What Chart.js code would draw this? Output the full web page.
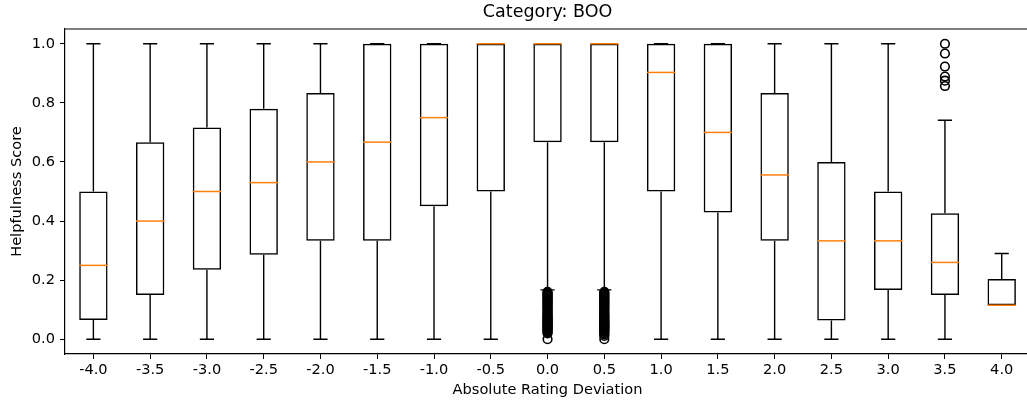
<!DOCTYPE html>
<html>
<head>
<meta charset="utf-8">
<script src="https://cdn.jsdelivr.net/npm/chart.js@4/dist/chart.umd.min.js"></script>
<style>
  html, body { margin: 0; padding: 0; background: #fff; overflow: hidden; }
  #wrap { width: 1036px; height: 406px; position: relative; }
</style>
</head>
<body>
<div id="wrap"><canvas id="boxChart"></canvas></div>
<script>
// Deviation buckets on the x axis
const deviations = ['-4.0', '-3.5', '-3.0', '-2.5', '-2.0', '-1.5', '-1.0', '-0.5', '0.0',
                    '0.5', '1.0', '1.5', '2.0', '2.5', '3.0', '3.5', '4.0'];

// Box statistics per bucket (helpfulness score)
const whiskerLow  = [0, 0, 0, 0, 0, 0, 0, 0, 0.167, 0.167, 0, 0, 0, 0, 0, 0, 0.115];
const q1          = [0.065, 0.15, 0.235, 0.286, 0.333, 0.333, 0.45, 0.5, 0.667, 0.667, 0.5, 0.429, 0.333, 0.063, 0.167, 0.15, 0.115];
const medians     = [0.25, 0.40, 0.50, 0.53, 0.60, 0.667, 0.75, 1.0, 1.0, 1.0, 0.903, 0.70, 0.556, 0.333, 0.333, 0.26, 0.115];
const q3          = [0.50, 0.667, 0.717, 0.78, 0.833, 1.0, 1.0, 1.0, 1.0, 1.0, 1.0, 1.0, 0.833, 0.60, 0.50, 0.426, 0.204];
const whiskerHigh = [1, 1, 1, 1, 1, 1, 1, 1, 1, 1, 1, 1, 1, 1, 1, 0.741, 0.29];

// Fliers (dense below the lower whisker for 0.0 and 0.5)
const fliersZero = [0, 0.02, 0.024, 0.028, 0.031, 0.034, 0.037, 0.04, 0.043, 0.045, 0.048, 0.05,
                    0.053, 0.056, 0.059, 0.0625, 0.065, 0.067, 0.071, 0.074, 0.077, 0.08, 0.083,
                    0.087, 0.091, 0.095, 0.1, 0.103, 0.107, 0.111, 0.115, 0.118, 0.122, 0.125,
                    0.129, 0.133, 0.136, 0.14, 0.143, 0.147, 0.15, 0.154, 0.157, 0.16];
const fliersHalf = [0, 0.011, 0.016, 0.02, 0.024, 0.028, 0.031, 0.034, 0.037, 0.04, 0.043, 0.045,
                    0.048, 0.05, 0.053, 0.056, 0.059, 0.0625, 0.065, 0.067, 0.071, 0.074, 0.077,
                    0.08, 0.083, 0.087, 0.091, 0.095, 0.1, 0.103, 0.107, 0.111, 0.115, 0.118,
                    0.122, 0.125, 0.129, 0.133, 0.136, 0.14, 0.143, 0.147, 0.15, 0.154, 0.157, 0.16];
const fliersThreeHalf = [1.0, 0.967, 0.923, 0.889, 0.875, 0.857];

const yTicks = [0, 0.2, 0.4, 0.6, 0.8, 1.0];

const FONT = 'DejaVu Sans';

const fliers = [
    ...fliersZero.map(v => ({ x: '0.0', y: v })),
    ...fliersHalf.map(v => ({ x: '0.5', y: v })),
    ...fliersThreeHalf.map(v => ({ x: '3.5', y: v }))
];

// whiskers, caps, medians and the axes frame
const boxExtras = {
    id: 'boxExtras',
    beforeDatasetsDraw(chart) {
        const { ctx, scales: { x, y } } = chart;
        const step = x.getPixelForValue(1) - x.getPixelForValue(0);
        ctx.save();
        ctx.strokeStyle = '#000';
        ctx.lineWidth = 1.4;
        deviations.forEach((d, i) => {
            const cx = x.getPixelForValue(i);
            const half = step * 0.125;
            ctx.beginPath();
            ctx.moveTo(cx, y.getPixelForValue(q1[i]));
            ctx.lineTo(cx, y.getPixelForValue(whiskerLow[i]));
            ctx.moveTo(cx, y.getPixelForValue(q3[i]));
            ctx.lineTo(cx, y.getPixelForValue(whiskerHigh[i]));
            ctx.moveTo(cx - half, y.getPixelForValue(whiskerLow[i]));
            ctx.lineTo(cx + half, y.getPixelForValue(whiskerLow[i]));
            ctx.moveTo(cx - half, y.getPixelForValue(whiskerHigh[i]));
            ctx.lineTo(cx + half, y.getPixelForValue(whiskerHigh[i]));
            ctx.stroke();
        });
        ctx.restore();
    },
    afterDatasetsDraw(chart) {
        const { ctx, chartArea, scales: { x, y } } = chart;
        const step = x.getPixelForValue(1) - x.getPixelForValue(0);
        ctx.save();
        ctx.strokeStyle = '#ff7f0e';
        ctx.lineWidth = 1.5;
        medians.forEach((m, i) => {
            const cx = x.getPixelForValue(i);
            const py = y.getPixelForValue(m);
            ctx.beginPath();
            ctx.moveTo(cx - step * 0.25, py);
            ctx.lineTo(cx + step * 0.25, py);
            ctx.stroke();
        });
        ctx.strokeStyle = '#000';
        ctx.lineWidth = 1.2;
        ctx.beginPath();
        ctx.moveTo(chartArea.left, chartArea.top);
        ctx.lineTo(chartArea.right, chartArea.top);
        ctx.lineTo(chartArea.right, chartArea.bottom);
        ctx.stroke();
        ctx.restore();
    }
};

new Chart(document.getElementById('boxChart').getContext('2d'), {
    type: 'bar',
    data: {
        labels: deviations,
        datasets: [{
            type: 'bar',
            label: 'IQR',
            data: deviations.map((d, i) => [q1[i], q3[i]]),
            backgroundColor: 'rgba(255,255,255,0)',
            borderColor: '#000',
            borderWidth: 1.5,
            borderSkipped: false,
            barPercentage: 0.5,
            categoryPercentage: 1.0,
            order: 2
        }, {
            type: 'line',
            label: 'Fliers',
            data: fliers,
            showLine: false,
            pointStyle: 'circle',
            pointRadius: 4.3,
            pointBorderWidth: 1.6,
            pointBorderColor: '#000',
            pointBackgroundColor: 'rgba(255,255,255,0)',
            order: 1
        }]
    },
    options: {
        responsive: true,
        maintainAspectRatio: false,
        animation: false,
        layout: { padding: { left: 0, right: 1.5, top: 0, bottom: 0 } },
        plugins: {
            legend: { display: false },
            tooltip: { enabled: false },
            title: {
                display: true,
                fullSize: false,
                text: 'Category: BOO',
                color: '#000',
                font: { family: FONT, size: 17.5, weight: 'normal' },
                padding: { top: 2, bottom: 6 }
            }
        },
        scales: {
            x: {
                type: 'category',
                offset: true,
                afterFit: scale => { scale.height = 52; },
                grid: { display: true, drawOnChartArea: false, drawTicks: true, tickLength: 5, color: '#000', offset: false },
                border: { display: true, color: '#000', width: 1.2 },
                ticks: { color: '#000', font: { family: FONT, size: 14.6 }, padding: 2.5, maxRotation: 0, autoSkip: false },
                title: {
                    display: true,
                    text: 'Absolute Rating Deviation',
                    color: '#000',
                    font: { family: FONT, size: 14.6 },
                    padding: { top: 2, bottom: 7 }
                }
            },
            y: {
                type: 'linear',
                min: -0.05,
                max: 1.05,
                afterBuildTicks: scale => { scale.ticks = yTicks.map(v => ({ value: v })); },
                afterFit: scale => { scale.width = 65; },
                grid: { display: true, drawOnChartArea: false, drawTicks: true, tickLength: 5, color: '#000' },
                border: { display: true, color: '#000', width: 1.2 },
                ticks: {
                    color: '#000',
                    font: { family: FONT, size: 14.6 },
                    padding: 5,
                    callback: v => Number(v).toFixed(1)
                },
                title: {
                    display: true,
                    text: 'Helpfulness Score',
                    color: '#000',
                    font: { family: FONT, size: 14.6 },
                    padding: { top: 8.75, bottom: 5 }
                }
            }
        }
    },
    plugins: [boxExtras]
});
</script>
</body>
</html>
